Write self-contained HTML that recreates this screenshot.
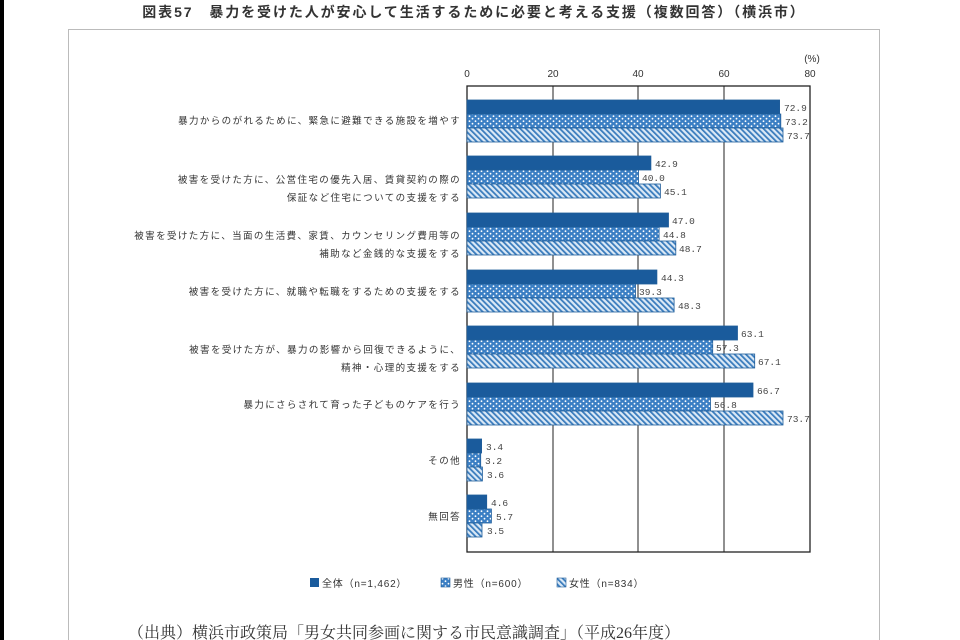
<!DOCTYPE html>
<html><head><meta charset="utf-8"><style>
body{margin:0;background:#fff;width:960px;height:640px;overflow:hidden;}
svg{display:block;font-family:"Liberation Sans","Noto Sans CJK JP",sans-serif;}
</style></head><body>
<svg width="960" height="640" viewBox="0 0 960 640">
<defs>
<pattern id="dots" width="6" height="5" patternUnits="userSpaceOnUse">
<rect width="6" height="5" fill="#3b7fc4"/>
<circle cx="1.5" cy="1.2" r="0.9" fill="#fff"/>
<circle cx="4.5" cy="3.7" r="0.9" fill="#fff"/>
</pattern>
<pattern id="hatch" width="4" height="4" patternUnits="userSpaceOnUse" patternTransform="rotate(-45)">
<rect width="4" height="4" fill="#dbe9f6"/>
<rect width="1.8" height="4" fill="#3a7cbd"/>
</pattern>
</defs>
<rect x="0" y="0" width="4" height="640" fill="#000"/>
<text x="474" y="17" text-anchor="middle" font-size="14" font-weight="bold" fill="#333" letter-spacing="1.9">図表57　暴力を受けた人が安心して生活するために必要と考える支援（複数回答）（横浜市）</text>
<rect x="68.5" y="29.5" width="811" height="620" fill="none" stroke="#bbb" stroke-width="1"/>
<g font-size="10" fill="#333" text-anchor="middle">
<text x="467" y="77">0</text><text x="553" y="77">20</text><text x="638" y="77">40</text><text x="724" y="77">60</text><text x="810" y="77">80</text>
<text x="812" y="62">(%)</text>
</g>
<g stroke="#222" stroke-width="1">
<line x1="553" y1="86" x2="553" y2="552"/><line x1="638" y1="86" x2="638" y2="552"/><line x1="724" y1="86" x2="724" y2="552"/>
</g>
<rect x="467" y="86" width="343" height="466" fill="none" stroke="#222" stroke-width="1.3"/>
<g stroke="#1f5d9a" stroke-width="0.8">
<rect x="467" y="100" width="312.6" height="14" fill="#1a5b9c"/>
<rect x="467" y="114" width="313.8" height="14" fill="url(#dots)"/>
<rect x="467" y="128" width="316" height="14" fill="url(#hatch)"/>
<rect x="467" y="156" width="183.9" height="14" fill="#1a5b9c"/>
<rect x="467" y="170" width="171.5" height="14" fill="url(#dots)"/>
<rect x="467" y="184" width="193.4" height="14" fill="url(#hatch)"/>
<rect x="467" y="213" width="201.5" height="14" fill="#1a5b9c"/>
<rect x="467" y="227" width="192.1" height="14" fill="url(#dots)"/>
<rect x="467" y="241" width="208.8" height="14" fill="url(#hatch)"/>
<rect x="467" y="270" width="189.9" height="14" fill="#1a5b9c"/>
<rect x="467" y="284" width="168.5" height="14" fill="url(#dots)"/>
<rect x="467" y="298" width="207.1" height="14" fill="url(#hatch)"/>
<rect x="467" y="326" width="270.5" height="14" fill="#1a5b9c"/>
<rect x="467" y="340" width="245.7" height="14" fill="url(#dots)"/>
<rect x="467" y="354" width="287.7" height="14" fill="url(#hatch)"/>
<rect x="467" y="383" width="286" height="14" fill="#1a5b9c"/>
<rect x="467" y="397" width="243.5" height="14" fill="url(#dots)"/>
<rect x="467" y="411" width="316" height="14" fill="url(#hatch)"/>
<rect x="467" y="439" width="14.6" height="14" fill="#1a5b9c"/>
<rect x="467" y="453" width="13.7" height="14" fill="url(#dots)"/>
<rect x="467" y="467" width="15.4" height="14" fill="url(#hatch)"/>
<rect x="467" y="495" width="19.7" height="14" fill="#1a5b9c"/>
<rect x="467" y="509" width="24.4" height="14" fill="url(#dots)"/>
<rect x="467" y="523" width="15" height="14" fill="url(#hatch)"/>
</g>
<g font-size="9.5" fill="#444" font-family="Liberation Mono, monospace">
<text x="784" y="111">72.9</text><text x="785" y="125">73.2</text><text x="787" y="139">73.7</text>
<text x="655" y="167">42.9</text><text x="642" y="181">40.0</text><text x="664" y="195">45.1</text>
<text x="672" y="224">47.0</text><text x="663" y="238">44.8</text><text x="679" y="252">48.7</text>
<text x="661" y="281">44.3</text><text x="639" y="295">39.3</text><text x="678" y="309">48.3</text>
<text x="741" y="337">63.1</text><text x="716" y="351">57.3</text><text x="758" y="365">67.1</text>
<text x="757" y="394">66.7</text><text x="714" y="408">56.8</text><text x="787" y="422">73.7</text>
<text x="486" y="450">3.4</text><text x="485" y="464">3.2</text><text x="487" y="478">3.6</text>
<text x="491" y="506">4.6</text><text x="496" y="520">5.7</text><text x="487" y="534">3.5</text>
</g>
<g font-size="9.5" fill="#333" text-anchor="end" letter-spacing="1.4">
<text x="461" y="124">暴力からのがれるために、緊急に避難できる施設を増やす</text>
<text x="461" y="183">被害を受けた方に、公営住宅の優先入居、賃貸契約の際の</text>
<text x="461" y="201">保証など住宅についての支援をする</text>
<text x="461" y="239">被害を受けた方に、当面の生活費、家賃、カウンセリング費用等の</text>
<text x="461" y="257">補助など金銭的な支援をする</text>
<text x="461" y="295">被害を受けた方に、就職や転職をするための支援をする</text>
<text x="461" y="353">被害を受けた方が、暴力の影響から回復できるように、</text>
<text x="461" y="371">精神・心理的支援をする</text>
<text x="461" y="408">暴力にさらされて育った子どものケアを行う</text>
<text x="461" y="464">その他</text>
<text x="461" y="520">無回答</text>
</g>
<g font-size="10" fill="#333" letter-spacing="0.8">
<rect x="310" y="578" width="9" height="9" fill="#1a5b9c"/>
<text x="322" y="587">全体（n=1,462）</text>
<rect x="441" y="578" width="9" height="9" fill="url(#dots)" stroke="#1f5d9a" stroke-width="0.6"/>
<text x="453" y="587">男性（n=600）</text>
<rect x="557" y="578" width="9" height="9" fill="url(#hatch)" stroke="#1f5d9a" stroke-width="0.6"/>
<text x="569" y="587">女性（n=834）</text>
</g>
<text x="128" y="638" font-size="16" fill="#333" font-family="Liberation Serif, 'Noto Serif CJK SC', serif">（出典）横浜市政策局「男女共同参画に関する市民意識調査」（平成26年度）</text>
</svg>
</body></html>
